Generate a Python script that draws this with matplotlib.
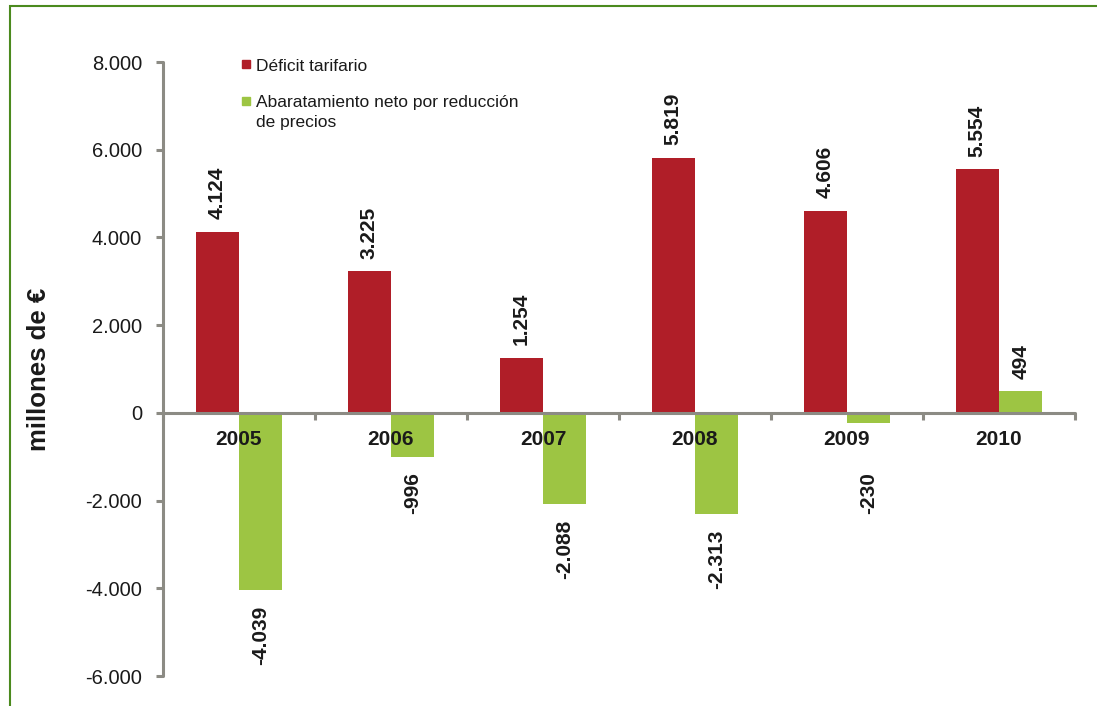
import numpy as np
import matplotlib.pyplot as plt
from matplotlib.patches import Rectangle
from matplotlib.ticker import FuncFormatter

years = ["2005", "2006", "2007", "2008", "2009", "2010"]
deficit = [4124, 3225, 1254, 5819, 4606, 5554]
abaratamiento = [-4039, -996, -2088, -2313, -230, 494]
y_ticks = [-6000, -4000, -2000, 0, 2000, 4000, 6000, 8000]

RED = '#b01e28'
GREEN = '#9dc543'
AXIS = '#8c8b84'
TEXT = '#1a1a1a'
FRAME = '#4b8a1e'

plt.rcParams['font.family'] = ['Liberation Sans', 'DejaVu Sans']
plt.rcParams['text.color'] = TEXT


def miles(v, _pos=None):
    # Spanish thousands separator
    return f"{v:,.0f}".replace(",", ".")


W, H = 1097, 706
fig = plt.figure(figsize=(W / 100, H / 100), dpi=100)
ax = fig.add_axes([163 / W, 30 / H, (1075 - 163) / W, (676 - 62) / H])

x = np.arange(len(years))
width = 0.285
ax.bar(x - width / 2, deficit, width, color=RED, zorder=2)
ax.bar(x + width / 2, abaratamiento, width, color=GREEN, zorder=2)

ax.set_xlim(-0.5, len(years) - 0.5)
ax.set_ylim(-6000, 8000)
# year labels sit on top of the negative bars
ax.set_axisbelow(False)

for side in ("top", "right"):
    ax.spines[side].set_visible(False)
ax.spines["bottom"].set_position(("data", 0))
for side in ("left", "bottom"):
    ax.spines[side].set_color(AXIS)
    ax.spines[side].set_linewidth(2.2)
    ax.spines[side].set_capstyle("round")

ax.set_yticks(y_ticks)
ax.yaxis.set_major_formatter(FuncFormatter(miles))
ax.tick_params(axis="y", length=5, width=2.2, color=AXIS, labelsize=14.5,
               pad=10, labelcolor=TEXT)

ax.set_xticks(x)
ax.set_xticklabels(years, fontweight="bold")
ax.set_xticks(np.arange(-0.5, len(years)), minor=True)
ax.tick_params(axis="x", which="major", length=0, labelsize=15, pad=12,
               labelcolor=TEXT)
ax.tick_params(axis="x", which="minor", length=5, width=2.2, color=AXIS,
               direction="out")

# value labels, rotated like the original report
lbl = dict(textcoords="offset points", rotation=90, ha="center",
           fontsize=15, fontweight="bold")
for xi, v in zip(x, deficit):
    ax.annotate(miles(v), (xi - width / 2, v), xytext=(0, 9),
                va="bottom", **lbl)
for xi, v in zip(x, abaratamiento):
    if v >= 0:
        ax.annotate(miles(v), (xi + width / 2, v), xytext=(0, 9),
                    va="bottom", **lbl)
    else:
        ax.annotate(miles(v), (xi + width / 2, min(v, -1000)),
                    xytext=(0, -11), va="top", **lbl)

# legend drawn by hand so the marker sits on the first text line
for y_top, color in ((60, RED), (97, GREEN)):
    fig.patches.append(Rectangle((242 / W, 1 - (y_top + 7.5) / H),
                                 7.5 / W, 7.5 / H, color=color,
                                 transform=fig.transFigure, figure=fig))
fig.text(256.5 / W, 1 - 71 / H, "Déficit tarifario", fontsize=12.5,
         va="baseline")
fig.text(256.5 / W, 1 - 95 / H,
         "Abaratamiento neto por reducción\nde precios", fontsize=12.5,
         va="top", linespacing=1.45)

fig.text(39 / W, 1 - 369 / H, "millones de €", rotation=90, fontsize=18.5,
         fontweight="bold", ha="center", va="center")

fig.patches.append(Rectangle((10 / W, -0.2), 1.5, 1.2 - 6 / H, fill=False,
                             edgecolor=FRAME, linewidth=1.5,
                             transform=fig.transFigure, figure=fig))

fig.savefig("out.png", dpi=100)
